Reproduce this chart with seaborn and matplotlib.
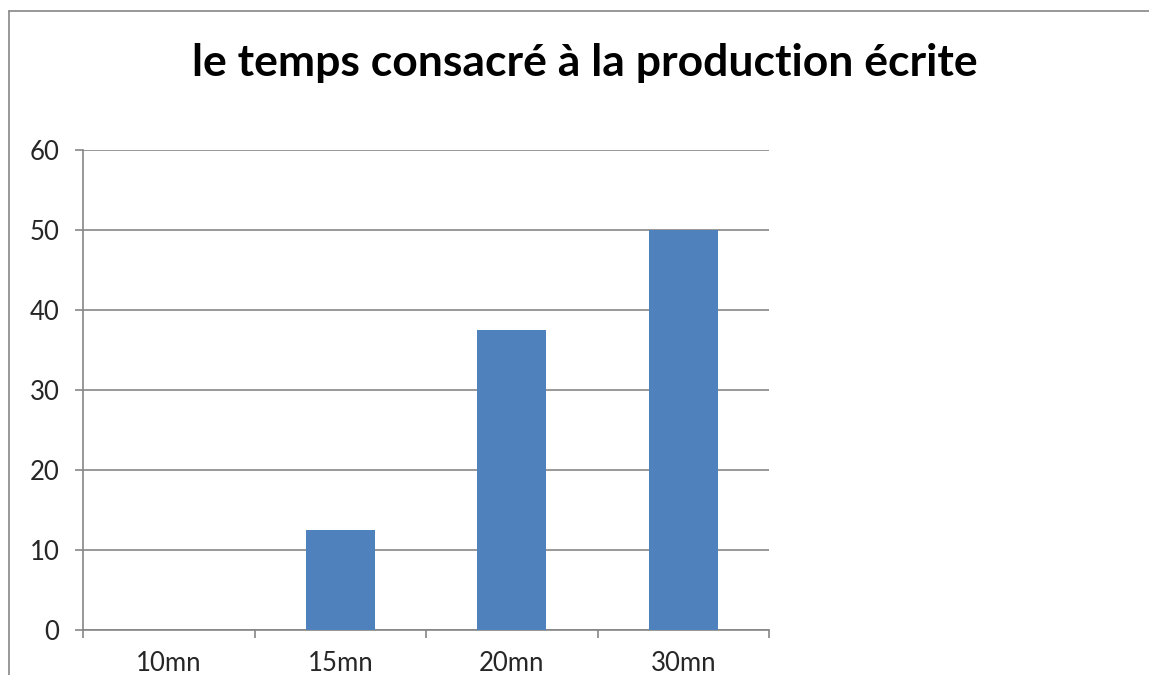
import matplotlib
matplotlib.use("Agg")
import matplotlib.pyplot as plt
from matplotlib.lines import Line2D
import seaborn as sns
import pandas as pd

categories = ["10mn", "15mn", "20mn", "30mn"]
values = [0, 12.5, 37.5, 50]
y_ticks = [0, 10, 20, 30, 40, 50, 60]
title = "le temps consacré à la production écrite"

sns.set_theme(style="white")
plt.rcParams["font.family"] = ["Lato", "DejaVu Sans"]

W, H = 1149, 675
fig = plt.figure(figsize=(W / 100, H / 100), dpi=100)
ax = fig.add_axes([83 / W, 1 - 630 / H, (769 - 83) / W, (630 - 150) / H])

df = pd.DataFrame({"duree": categories, "pourcentage": values})
sns.barplot(data=df, x="duree", y="pourcentage", color="#4F81BD",
            saturation=1, width=0.4, ax=ax, zorder=3, linewidth=0)

grey = "#868686"
ax.set_ylim(0, 60)
ax.set_xlim(-0.5, len(categories) - 0.5)
ax.set_yticks(y_ticks)
ax.set_yticklabels([str(t) for t in y_ticks], fontsize=18.5)
ax.yaxis.grid(True, color=grey, linewidth=1.2, zorder=0)
ax.set_axisbelow(True)

# category boundaries carry the tick marks; labels sit at the centres
ax.set_xticks(range(len(categories)))
ax.set_xticklabels(categories, fontsize=18.5)
ax.set_xticks([i - 0.5 for i in range(len(categories) + 1)], minor=True)
ax.tick_params(axis="x", which="major", length=0, pad=15, bottom=True)
ax.tick_params(axis="x", which="minor", length=6, width=1.2, color=grey,
               direction="out", bottom=True)
ax.tick_params(axis="y", length=6, width=1.2, color=grey, direction="out",
               pad=11, left=True)
ax.set_xlabel("")
ax.set_ylabel("")

for side in ("top", "right"):
    ax.spines[side].set_visible(False)
for side in ("left", "bottom"):
    ax.spines[side].set_visible(True)
    ax.spines[side].set_color(grey)
    ax.spines[side].set_linewidth(1.2)

fig.text(585 / W, 1 - 63 / H, title, ha="center", va="center",
         fontsize=32, fontweight="bold", color="black")

# chart frame: left and top edges only
fig.add_artist(Line2D([9 / W, 9 / W], [0, 1 - 11 / H], color=grey, linewidth=1.2))
fig.add_artist(Line2D([9 / W, 1.01], [1 - 11 / H, 1 - 11 / H], color=grey, linewidth=1.2))

fig.savefig("out.png", dpi=100, facecolor="white")
